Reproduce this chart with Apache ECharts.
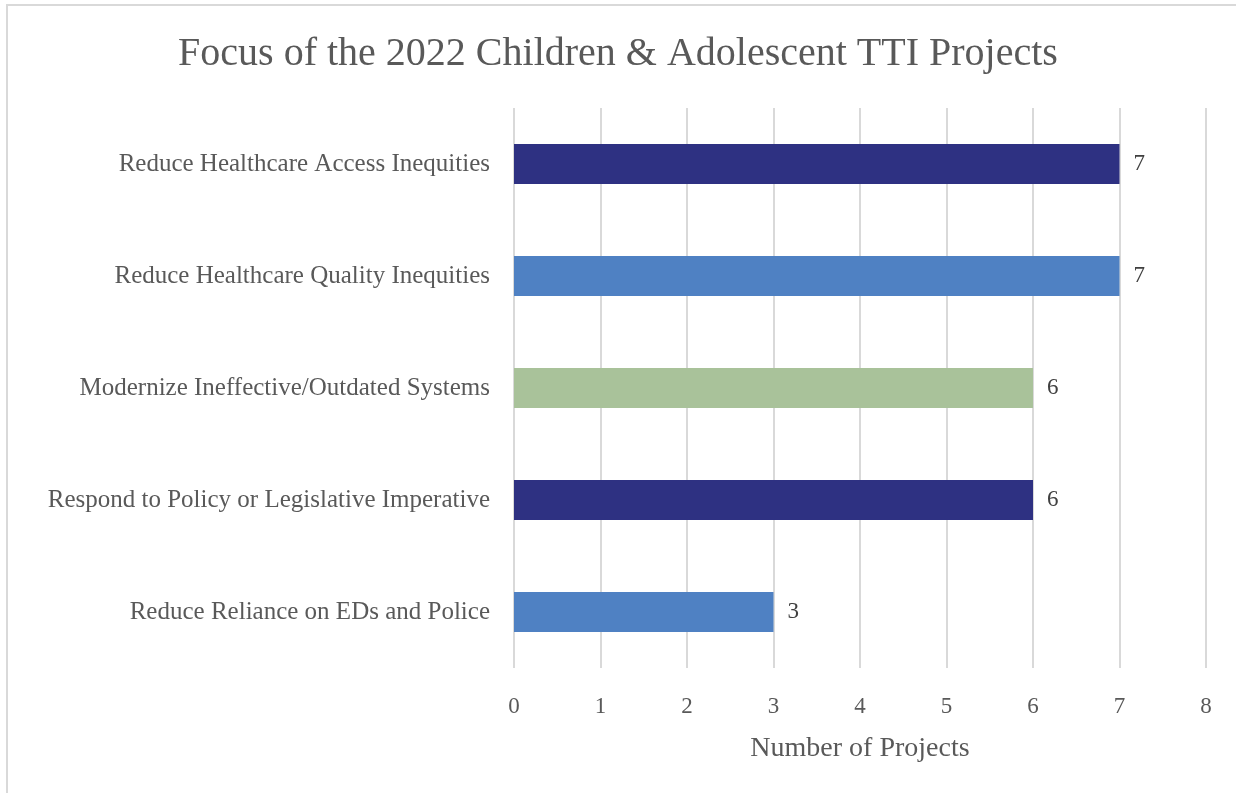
<!DOCTYPE html>
<html><head><meta charset="utf-8">
<script src="https://cdn.jsdelivr.net/npm/echarts@6/dist/echarts.min.js"></script>
<style>
html,body{margin:0;padding:0;background:#fff;overflow:hidden;}
#frame{position:absolute;left:6px;top:4px;width:1240px;height:800px;border-left:2px solid #d9d9d9;border-top:2px solid #d9d9d9;box-sizing:border-box;}
#chart{position:absolute;left:0;top:0;width:1236px;height:793px;}
</style></head>
<body>
<div id="frame"></div>
<div id="chart"></div>
<script>
const categories = [
  "Reduce Healthcare Access Inequities",
  "Reduce Healthcare Quality Inequities",
  "Modernize Ineffective/Outdated Systems",
  "Respond to Policy or Legislative Imperative",
  "Reduce Reliance on EDs and Police"
];
const values = [7, 7, 6, 6, 3];
const barColors = ["#2E3182", "#4F81C3", "#A9C29A", "#2E3182", "#4F81C3"];
const xTicks = [0, 1, 2, 3, 4, 5, 6, 7, 8];
const titleText = "Focus of the 2022 Children & Adolescent TTI Projects";
const xAxisTitle = "Number of Projects";

const font = "'Liberation Serif', 'DejaVu Serif', serif";
const chart = echarts.init(document.getElementById('chart'), null, {renderer: 'canvas'});
chart.setOption({
  animation: false,
  backgroundColor: 'transparent',
  title: {
    text: titleText, left: 'center', top: 29,
    textStyle: {fontFamily: font, fontSize: 40, fontWeight: 'normal', color: '#595959'}
  },
  grid: {left: 514, right: 30, top: 108, bottom: 125, containLabel: false},
  xAxis: {
    type: 'value', min: xTicks[0], max: xTicks[xTicks.length - 1], interval: 1,
    axisLine: {show: false}, axisTick: {show: false},
    splitLine: {show: true, lineStyle: {color: '#d9d9d9', width: 2}},
    axisLabel: {fontFamily: font, fontSize: 23, color: '#595959', margin: 27},
    name: xAxisTitle, nameLocation: 'middle', nameGap: 67,
    nameTextStyle: {fontFamily: font, fontSize: 28, color: '#595959'}
  },
  yAxis: {
    type: 'category', data: categories, inverse: true,
    axisLine: {show: false}, axisTick: {show: false},
    axisLabel: {fontFamily: font, fontSize: 25, color: '#595959', margin: 24}
  },
  series: [{
    type: 'bar', barWidth: 40,
    data: values.map((v, i) => ({value: v, itemStyle: {color: barColors[i]}})),
    label: {show: true, position: 'right', distance: 14, fontFamily: font, fontSize: 23, color: '#404040'}
  }]
});
</script>
</body></html>
